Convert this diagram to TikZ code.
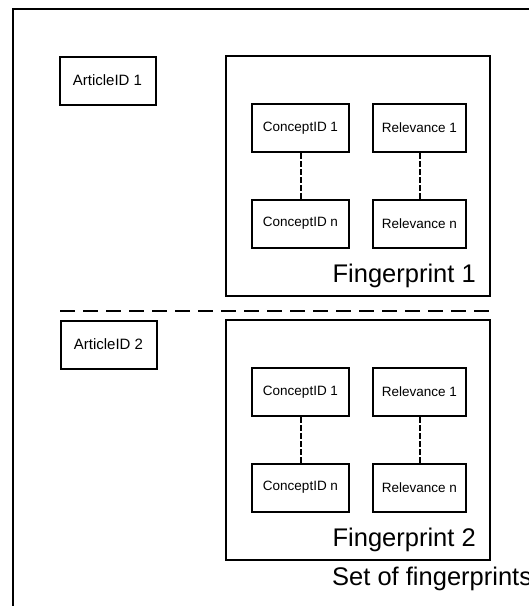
\documentclass[tikz,border=0pt]{standalone}
\usepackage{fontspec}
\setmainfont{Liberation Sans}
\begin{document}
\begin{tikzpicture}[x=1pt,y=-1pt,
  box/.style={draw,line width=2pt,inner sep=0pt,minimum height=48pt,font=\fontsize{13.5}{16}\selectfont},
  artbox/.style={box,minimum width=96pt,font=\fontsize{15}{18}\selectfont},
  cbox/.style={box,minimum width=97pt},
  rbox/.style={box,minimum width=93pt},
  fpbox/.style={draw,line width=2pt,inner sep=0pt,minimum width=264pt,minimum height=240pt},
  biglabel/.style={inner sep=0pt,font=\fontsize{25.5}{30}\selectfont},
  link/.style={line width=2pt,dash pattern=on 5.5pt off 2.5pt},
  sep/.style={line width=2pt,dash pattern=on 15pt off 8pt}]
\useasboundingbox (0,0) rectangle (529,606);
\clip (0,0) rectangle (529,606);
\fill[white] (0,0) rectangle (529,606);
\node[draw,line width=2pt,inner sep=0pt,minimum width=560pt,minimum height=650pt,anchor=north west] (outer) at (12,8) {};
% group 1
\node[artbox] (a1) at (107.5,80.5) {ArticleID 1};
\node[fpbox] (fp1) at (358,176) {};
\node[cbox] (c11) at (300.5,128) {ConceptID 1};
\node[rbox] (r11) at (419.5,128) {Relevance 1};
\node[cbox] (c1n) at (300.5,223.5) {ConceptID n};
\node[rbox] (r1n) at (419.5,223.5) {Relevance n};
\draw[link] (c11) -- (c1n);
\draw[link] (r11) -- (r1n);
\node[biglabel,anchor=base east] (l1) at (476,282) {Fingerprint 1};
% separator
\coordinate (s1) at (60,311);
\coordinate (s2) at (490,311);
\draw[sep] (s1) -- (s2);
% group 2
\node[artbox] (a2) at (108.5,344.5) {ArticleID 2};
\node[fpbox] (fp2) at (358,440) {};
\node[cbox] (c21) at (300.5,392) {ConceptID 1};
\node[rbox] (r21) at (419.5,392) {Relevance 1};
\node[cbox] (c2n) at (300.5,487.5) {ConceptID n};
\node[rbox] (r2n) at (419.5,487.5) {Relevance n};
\draw[link] (c21) -- (c2n);
\draw[link] (r21) -- (r2n);
\node[biglabel,anchor=base east] (l2) at (476,546) {Fingerprint 2};
\node[biglabel,anchor=base west] (set) at (332,585) {Set of fingerprints};
\end{tikzpicture}
\end{document}
